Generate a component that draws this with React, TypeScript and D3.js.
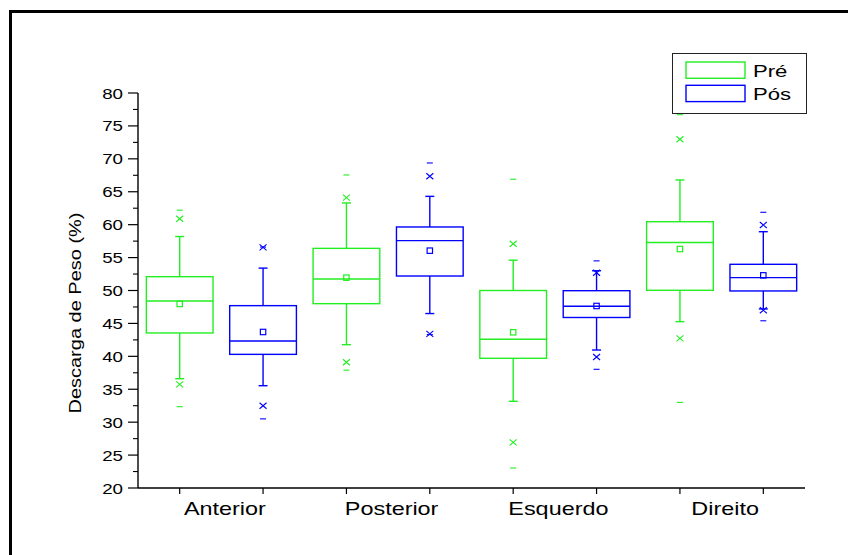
import React from 'react';
import * as d3 from 'd3';

const categories = ['Anterior', 'Posterior', 'Esquerdo', 'Direito'];
const seriesNames = ['Pré', 'Pós'];
const seriesColors = ['#22ee22', '#0000ff'];

// per category: [max, p99, whiskerTop, q3, median, mean, q1, whiskerBottom, p1, min]
const preStats = [
  [62.2, 60.9, 58.2, 52.1, 48.4, 47.95, 43.55, 36.6, 35.75, 32.35],
  [67.55, 64.1, 63.3, 56.4, 51.75, 51.95, 48.0, 41.77, 39.1, 37.9],
  [66.9, 57.1, 54.6, 50.0, 42.6, 43.65, 39.7, 33.17, 26.94, 23.04],
  [76.7, 72.97, 66.79, 60.45, 57.3, 56.3, 50.03, 45.27, 42.74, 33.0],
];
const posStats = [
  [56.6, 56.56, 53.4, 47.7, 42.33, 43.7, 40.3, 35.54, 32.5, 30.5],
  [69.37, 67.35, 64.3, 59.65, 57.57, 56.05, 52.2, 46.5, 43.4, 43.3],
  [54.5, 52.7, 53.0, 49.97, 47.6, 47.65, 45.9, 40.96, 39.9, 38.03],
  [61.88, 59.95, 58.93, 53.98, 51.95, 52.3, 49.93, 47.2, 47.0, 45.4],
];

const yMajor = d3.range(20, 81, 5);
const yMinor = d3.range(22.5, 80, 5);

const W = 848;
const H = 555;

export default function App() {
  const x = d3.scaleLinear().domain([0.5, 8.5]).range([138, 805]);
  const y = d3.scaleLinear().domain([20, 80]).range([488, 93]);
  const boxW = x(1.4) - x(0.6);
  const capW = 9;

  const boxes = [];
  [preStats, posStats].forEach((stats, s) => {
    stats.forEach((d, c) => {
      const cx = x(c * 2 + s + 1);
      const col = seriesColors[s];
      const [mx, p99, wt, q3, med, mean, q1, wb, p1, mn] = d;
      boxes.push(
        <g key={`${s}-${c}`} stroke={col} fill="none" strokeWidth={1.4}>
          <line x1={cx} x2={cx} y1={y(wt)} y2={y(q3)} />
          <line x1={cx} x2={cx} y1={y(q1)} y2={y(wb)} />
          <line x1={cx - capW / 2} x2={cx + capW / 2} y1={y(wt)} y2={y(wt)} />
          <line x1={cx - capW / 2} x2={cx + capW / 2} y1={y(wb)} y2={y(wb)} />
          <rect x={cx - boxW / 2} y={y(q3)} width={boxW} height={y(q1) - y(q3)} />
          <line x1={cx - boxW / 2} x2={cx + boxW / 2} y1={y(med)} y2={y(med)} />
          <rect x={cx - 2.7} y={y(mean) - 2.7} width={5.4} height={5.4} strokeWidth={1.2} />
          {[p99, p1].map((v, i) => (
            <path key={i} d={`M${cx - 3.5},${y(v) - 3}L${cx + 3.5},${y(v) + 3}M${cx - 3.5},${y(v) + 3}L${cx + 3.5},${y(v) - 3}`} strokeWidth={1.1} />
          ))}
          {[mx, mn].map((v, i) => (
            <line key={i} x1={cx - 3} x2={cx + 3} y1={y(v)} y2={y(v)} strokeWidth={1.1} />
          ))}
        </g>
      );
    });
  });

  return (
    <svg width={W} height={H} style={{ position: 'absolute', left: 0, top: 0 }} fontFamily="'Liberation Sans', Arial, sans-serif">
      <rect x={0} y={0} width={W} height={H} fill="#fff" />
      <path d={`M10.5,${H}V11.5H${W}`} stroke="#000" strokeWidth={3} fill="none" />

      {/* y axis */}
      <line x1={138} x2={138} y1={y(80)} y2={y(20)} stroke="#000" strokeWidth={1.4} />
      {yMajor.map(t => (
        <g key={t}>
          <line x1={128} x2={138} y1={y(t)} y2={y(t)} stroke="#000" strokeWidth={1.2} />
          <text transform={`translate(123,${y(t) + 5.5}) scale(1.25,1)`} textAnchor="end" fontSize={15} fill="#000">{t}</text>
        </g>
      ))}
      {yMinor.map(t => (
        <line key={t} x1={133} x2={138} y1={y(t)} y2={y(t)} stroke="#000" strokeWidth={1.1} />
      ))}
      <text transform={`translate(81,313) scale(0.85,1) rotate(-90)`} textAnchor="middle" fontSize={20} fill="#000">Descarga de Peso (%)</text>

      {/* x axis */}
      <line x1={138} x2={805} y1={488} y2={488} stroke="#000" strokeWidth={1.4} />
      {d3.range(1, 9).map(i => (
        <line key={i} x1={x(i)} x2={x(i)} y1={488} y2={494} stroke="#000" strokeWidth={1.2} />
      ))}
      {categories.map((c, i) => (
        <text key={c} transform={`translate(${x(i * 2 + 1.5) + 3.5},515) scale(1.3,1)`} textAnchor="middle" fontSize={18} fill="#000">{c}</text>
      ))}

      {boxes}

      {/* legend */}
      <rect x={672.5} y={53.5} width={134} height={60} fill="#fff" stroke="#222" strokeWidth={1} />
      {seriesNames.map((n, i) => (
        <g key={n}>
          <rect x={686} y={62 + i * 23.3} width={59} height={16.3} fill="none" stroke={seriesColors[i]} strokeWidth={1.4} />
          <text transform={`translate(753,${77 + i * 23.3}) scale(1.3,1)`} fontSize={17} fill="#000">{n}</text>
        </g>
      ))}
    </svg>
  );
}
